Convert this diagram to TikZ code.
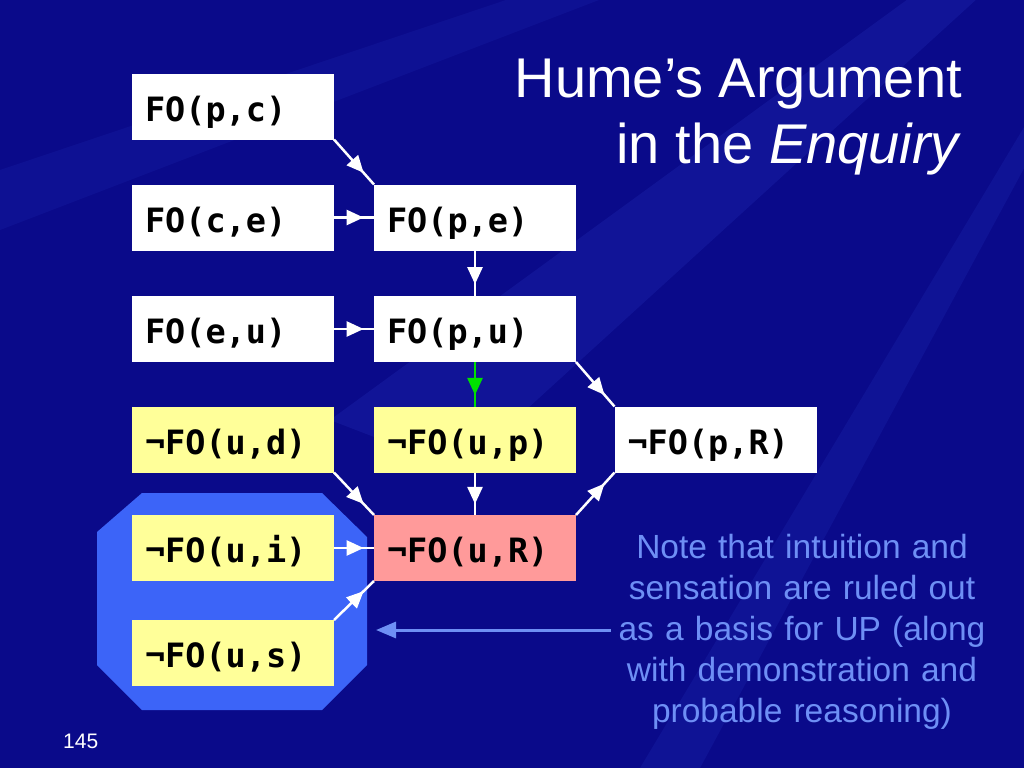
\documentclass[tikz,border=0pt]{standalone}
\usepackage{fontspec}
\setmainfont{Liberation Sans}
\newfontfamily\codefont{DejaVu Sans Mono}
\usetikzlibrary{arrows.meta,decorations.markings}
\definecolor{slidebg}{HTML}{0A0A8A}
\definecolor{slideray}{HTML}{2A3CC8}
\definecolor{octblue}{HTML}{3C64F8}
\definecolor{noteblue}{HTML}{6E8FF5}
\definecolor{foyellow}{HTML}{FFFF99}
\definecolor{fopink}{HTML}{FF9A9A}
\definecolor{fogreen}{HTML}{00E000}
\begin{document}
\begin{tikzpicture}[x=1pt, y=-1pt,
    fobox/.style={text width=176pt, inner xsep=13pt, inner ysep=0pt, minimum height=66pt,
        text height=33pt, text depth=4pt, align=left, outer sep=0pt, text=black,
        font=\codefont\bfseries\fontsize{33.5}{38}\selectfont},
    plainbox/.style={fobox, fill=white},
    notbox/.style={fobox, fill=foyellow},
    keybox/.style={fobox, fill=fopink},
    flow/.style={white, line width=2.5pt, postaction={decorate},
        decoration={markings, mark=at position 0.74 with {\arrow{Triangle[length=17pt,width=15pt]}}}}
    ]
    \useasboundingbox (0,0) rectangle (1024,768);
    \fill[slidebg] (0,0) rectangle (1024,768);
    \begin{scope}
        \clip (0,0) rectangle (1024,768);
        \fill[slideray, opacity=0.22] (1250,-250) -- (330,420) -- (460,470) -- cycle;
        \fill[slideray, opacity=0.18] (1250,-250) -- (640,768) -- (700,768) -- cycle;
        \fill[slideray, opacity=0.22] (1250,-250) -- (1024,600) -- (1024,470) -- cycle;
        \fill[slideray, opacity=0.15] (1250,-250) -- (0,170) -- (0,230) -- cycle;
        \fill[slideray, opacity=0.15] (1250,-250) -- (560,0) -- (640,0) -- cycle;
        \fill[black, opacity=0.12] (1250,-250) -- (380,0) -- (540,0) -- cycle;
    \end{scope}

    \fill[octblue] (142,493) -- (322,493) -- (367,537) -- (367,665) -- (322,710)
        -- (142,710) -- (97,665) -- (97,532) -- cycle;

    \node[plainbox] (pc) at (233,106.5) {FO(p,c)};
    \node[plainbox] (ce) at (233,217.5) {FO(c,e)};
    \node[plainbox] (pe) at (475,217.5) {FO(p,e)};
    \node[plainbox] (eu) at (233,329) {FO(e,u)};
    \node[plainbox] (pu) at (475,329) {FO(p,u)};
    \node[notbox] (ud) at (233,439.5) {¬FO(u,d)};
    \node[notbox] (up) at (475,439.5) {¬FO(u,p)};
    \node[plainbox] (pR) at (715.5,439.5) {¬FO(p,R)};
    \node[notbox] (ui) at (233,548) {¬FO(u,i)};
    \node[keybox] (uR) at (475,548) {¬FO(u,R)};
    \node[notbox] (us) at (233,653) {¬FO(u,s)};

    \draw[flow] (pc.south east) -- (pe.north west);
    \draw[flow] (ce.east) -- (pe.west);
    \draw[flow] (pe.south) -- (pu.north);
    \draw[flow] (eu.east) -- (pu.west);
    \draw[flow, fogreen] (pu.south) -- (up.north);
    \draw[flow] (pu.south east) -- (pR.north west);
    \draw[flow] (ud.south east) -- (uR.north west);
    \draw[flow] (up.south) -- (uR.north);
    \draw[flow] (uR.north east) -- (pR.south west);
    \draw[flow] (ui.east) -- (uR.west);
    \draw[flow] (us.north east) -- (uR.south west);

    \node[anchor=base east, align=right, text=white, inner sep=0pt,
        font=\fontsize{56}{66}\selectfont] (title) at (962,163)
        {Hume’s Argument\\in the \textit{Enquiry}};
    \node[align=center, text width=370pt, inner sep=0pt, text=noteblue,
        font=\fontsize{33.5}{41}\selectfont] (note) at (802,632)
        {Note that intuition and\\sensation are ruled out\\as a basis for UP (along\\with demonstration and\\probable reasoning)};
    \coordinate (notetip) at (376,630);
    \draw[noteblue, line width=3pt, -{Triangle[length=20pt,width=16pt]}]
        ([xshift=-6pt]note.west |- notetip) -- (notetip);
    \node[anchor=base west, text=white, inner sep=0pt,
        font=\fontsize{21}{25}\selectfont] (slideno) at (63,748) {145};
\end{tikzpicture}
\end{document}
